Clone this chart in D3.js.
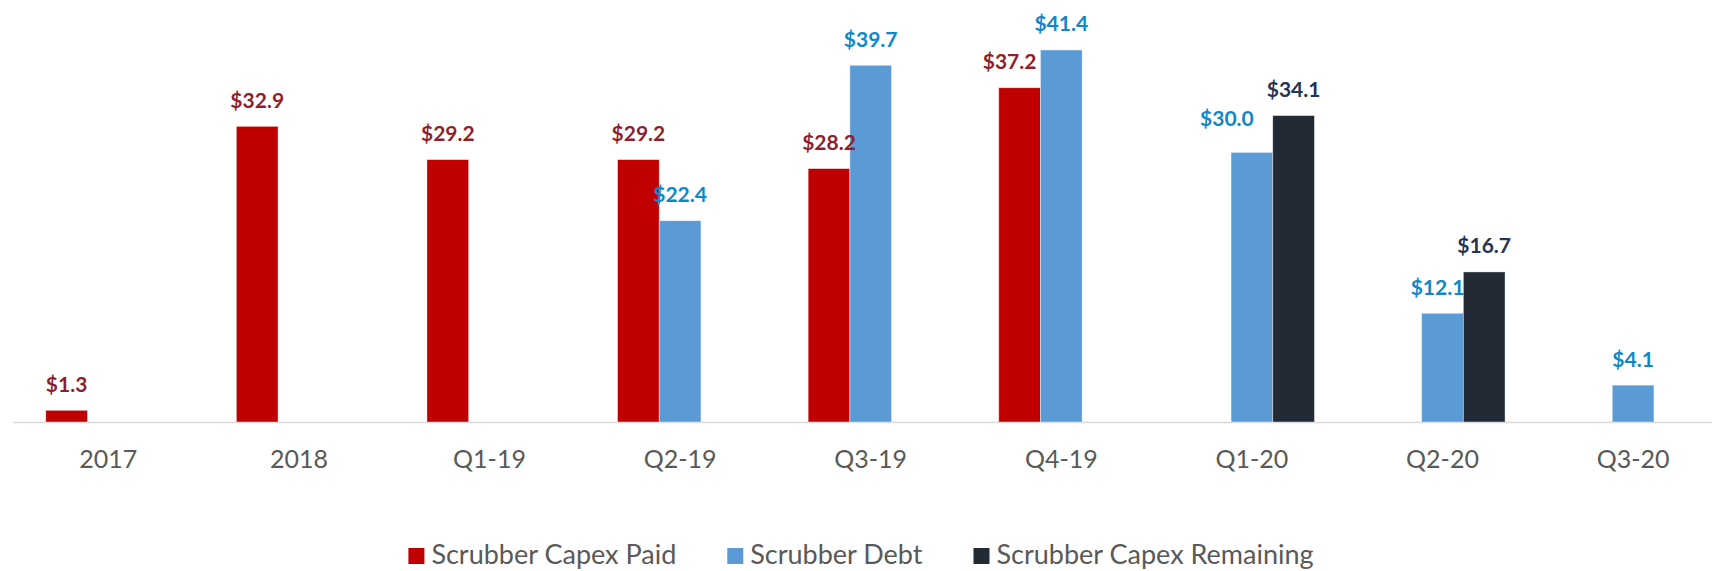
<!DOCTYPE html>
<html>
<head>
<meta charset="utf-8">
<script src="https://cdn.jsdelivr.net/npm/d3@7"></script>
<style>
  html, body { margin: 0; padding: 0; background: #fff; }
  svg { display: block; font-family: Lato, "Open Sans", sans-serif; }
</style>
</head>
<body>
<div id="chart"></div>
<script>
// chart values
const categories = ['2017', '2018', 'Q1-19', 'Q2-19', 'Q3-19', 'Q4-19', 'Q1-20', 'Q2-20', 'Q3-20'];
const capexPaid = [1.3, 32.9, 29.2, 29.2, 28.2, 37.2, null, null, null];
const scrubberDebt = [null, null, null, 22.4, 39.7, 41.4, 30.0, 12.1, 4.1];
const capexRemaining = [null, null, null, null, null, null, 34.1, 16.7, null];
const seriesNames = ['Scrubber Capex Paid', 'Scrubber Debt', 'Scrubber Capex Remaining'];

const config = {
  width: 1712,
  height: 571,
  plotLeft: 13,
  step: 190.6,
  baseline: 422,
  pxPerUnit: 8.986,
  barColors: ['#c00000', '#5b9bd5', '#222a35'],
  labelColors: ['#8e1f2f', '#0e88c8', '#253356'],
  axisColor: '#d9d9d9',
  textColor: '#595959'
};

// a few labels are nudged in the original to avoid overlaps (dx, dy)
const labelNudge = {
  'Scrubber Capex Paid|Q4-19': [-10, 0],
  'Scrubber Debt|Q1-20': [-25, -8],
  'Scrubber Debt|Q2-20': [-5, 0]
};

const seriesValues = [capexPaid, scrubberDebt, capexRemaining];
const data = categories.map((c, i) => ({
  category: c,
  values: seriesNames.map((s, j) => ({ series: s, idx: j, category: c, value: seriesValues[j][i] }))
}));

const svg = d3.select('#chart').append('svg')
  .attr('width', config.width)
  .attr('height', config.height);

// x scales: outer band for categories, inner band for the three series slots
const pad = 0.3437;
const x0 = d3.scaleBand()
  .domain(categories)
  .range([config.plotLeft, config.plotLeft + categories.length * config.step])
  .paddingInner(pad)
  .paddingOuter(pad / 2);

const x1 = d3.scaleBand()
  .domain(seriesNames)
  .range([0, x0.bandwidth()]);

const y = d3.scaleLinear()
  .domain([0, 45])
  .range([config.baseline, config.baseline - 45 * config.pxPerUnit]);

// axis
const xAxis = d3.axisBottom(x0)
  .tickSize(0)
  .tickSizeOuter(0)
  .tickPadding(28);

const axisG = svg.append('g')
  .attr('transform', `translate(0,${config.baseline})`)
  .call(xAxis);

axisG.select('.domain')
  .attr('stroke', config.axisColor)
  .attr('stroke-width', 1.5);

axisG.selectAll('text')
  .attr('fill', config.textColor)
  .style('font-size', '25px')
  .style('font-family', 'Lato, sans-serif');

// bars
const groups = svg.selectAll('.cat-group')
  .data(data)
  .join('g')
  .attr('class', 'cat-group')
  .attr('transform', d => `translate(${x0(d.category)},0)`);

const present = d => d.values.filter(v => v.value != null);

groups.selectAll('rect')
  .data(present)
  .join('rect')
  .attr('x', d => x1(d.series))
  .attr('width', x1.bandwidth())
  .attr('y', d => y(d.value))
  .attr('height', d => y(0) - y(d.value))
  .attr('fill', d => config.barColors[d.idx])
  .attr('stroke', '#ffffff')
  .attr('stroke-opacity', 0.5)
  .attr('stroke-width', 0.8);

// value labels
groups.selectAll('.value-label')
  .data(present)
  .join('text')
  .attr('class', 'value-label')
  .attr('x', d => x1(d.series) + x1.bandwidth() / 2 + (labelNudge[d.series + '|' + d.category] || [0, 0])[0])
  .attr('y', d => y(d.value) - 18.5 + (labelNudge[d.series + '|' + d.category] || [0, 0])[1])
  .attr('text-anchor', 'middle')
  .attr('fill', d => config.labelColors[d.idx])
  .style('font-size', '21px')
  .style('font-weight', 700)
  .text(d => '$' + d3.format('.1f')(d.value));

// legend, centred under the chart (kept just inside the bottom edge)
const legend = svg.append('g').attr('class', 'legend');
const legendY = 564;
const sq = 16, sqGap = 7, itemGap = 51;

const items = legend.selectAll('.legend-item')
  .data(seriesNames)
  .join('g')
  .attr('class', 'legend-item');

items.append('rect')
  .attr('width', sq)
  .attr('height', sq)
  .attr('y', legendY - 16)
  .attr('fill', (d, i) => config.barColors[i]);

items.append('text')
  .attr('x', sq + sqGap)
  .attr('y', legendY)
  .attr('fill', config.textColor)
  .style('font-size', '27px')
  .text(d => d);

let widths = [];
items.each(function () {
  widths.push(sq + sqGap + d3.select(this).select('text').node().getComputedTextLength());
});
const total = d3.sum(widths) + itemGap * (widths.length - 1);
let cx = 861 - total / 2;
items.attr('transform', (d, i) => {
  const t = `translate(${cx},0)`;
  cx += widths[i] + itemGap;
  return t;
});
</script>
</body>
</html>
